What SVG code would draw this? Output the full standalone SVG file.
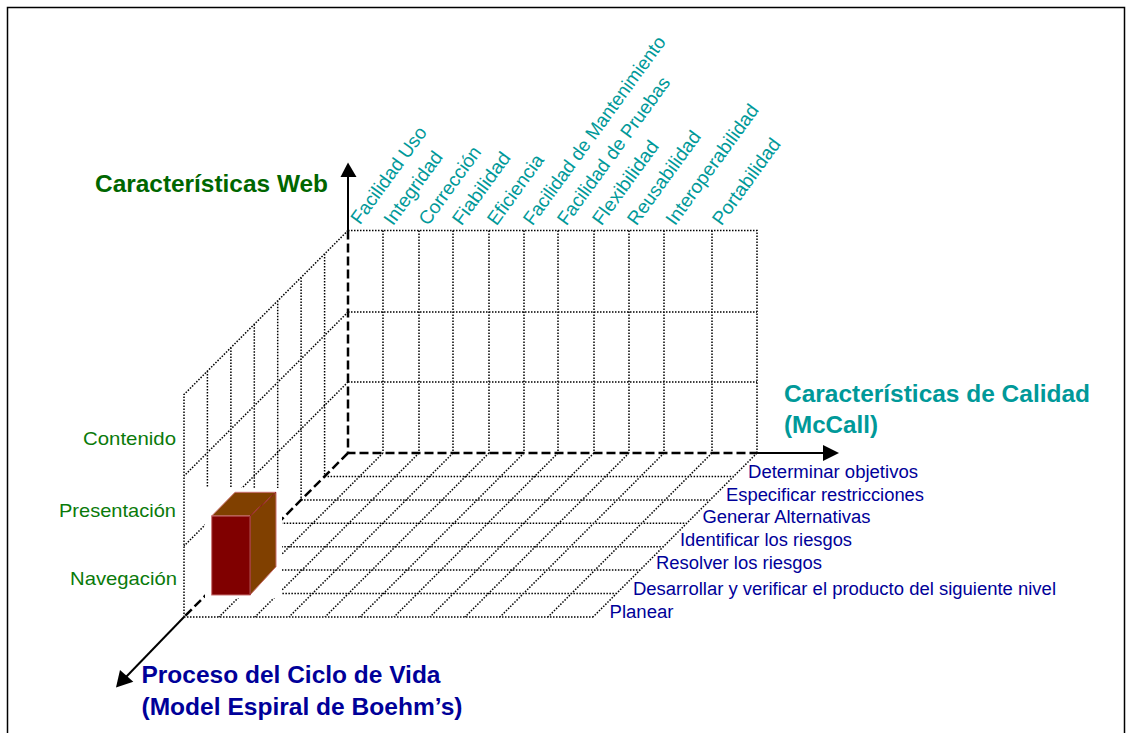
<svg xmlns="http://www.w3.org/2000/svg" width="1127" height="733" viewBox="0 0 1127 733">
<defs>
<style>
.dot{fill:none;stroke:#000;stroke-width:1.5;stroke-dasharray:1.5 1.5}
.dash{fill:none;stroke:#000;stroke-width:2.5;stroke-dasharray:9 4}
.axis{fill:none;stroke:#000;stroke-width:2}
.head{fill:#000}
.t{font-family:"Liberation Sans",Arial,sans-serif}
.top{font-size:19px;fill:#009999}
.flr{font-size:18px;fill:#000099}
.lft{font-size:19px;fill:#0a7a0a}
.ttl{font-size:24px;font-weight:bold}
</style>
</defs>
<rect x="0" y="0" width="1127" height="733" fill="#fff"/>
<g id="frame"><rect x="7.5" y="7.5" width="1117" height="740" fill="none" stroke="#000" stroke-width="1.5"/></g>

<g id="back-wall">
<path class="dot" d="M348 230.5H757V453M348 312H757M348 382H757M383 230.5V453M419 230.5V453M453 230.5V453M489 230.5V453M524 230.5V453M558 230.5V453M594 230.5V453M629 230.5V453M664 230.5V453M712 230.5V453"/>
</g>

<g id="left-wall">
<path class="dot" d="M348 230.5L184 394.5V617M348 312L184 476M348 382L184 546M324.6 253.9V476.4M301.1 277.4V499.9M277.7 300.8V523.3M254.3 324.2V546.7M230.9 347.6V570.1M207.4 371.1V593.6"/>
</g>

<g id="floor">
<path class="dot" d="M324.6 476.4H733.6M301.1 499.9H710.1M277.7 523.3H686.7M254.3 546.7H663.3M230.9 570.1H639.9M207.4 593.6H616.4M184 617H593M383 453L219 617M419 453L255 617M453 453L289 617M489 453L325 617M524 453L360 617M558 453L394 617M594 453L430 617M629 453L465 617M664 453L500 617M712 453L548 617M757 453L593 617"/>
</g>

<g id="axes-dashed">
<path class="dash" d="M348 230.5V453H757M348 453L184 617"/>
</g>

<g id="cube">
<rect x="205" y="488" width="77" height="110" fill="#fff"/>
<polygon points="211.7,516 235,492.3 276,492.3 250,516" fill="#804000" stroke="#c87070" stroke-width="1"/>
<polygon points="250,516 276,492.3 276,566.7 250,595" fill="#804000" stroke="#c87070" stroke-width="1"/>
<rect x="211.7" y="516" width="38.3" height="79" fill="#800000" stroke="#c87070" stroke-width="1"/>
<path d="M250 516L276 492.3M250 516V595" stroke="#8b1a1a" stroke-width="1" fill="none"/>
</g>

<g id="connectors">
<path class="axis" d="M348 230.5V176"/>
<polygon class="head" points="348,162.5 340.5,177 356.5,177"/>
<path class="axis" d="M757 453H825"/>
<polygon class="head" points="839,453 823,445 823,461"/>
<path class="axis" d="M184 617L126 677"/>
<polygon class="head" points="116,687.5 120,670 133.3,681.7"/>
</g>

<g id="node-web" class="t ttl"><text x="95" y="192" fill="#006600" textLength="233" lengthAdjust="spacingAndGlyphs">Características Web</text></g>
<g id="node-calidad" class="t ttl" fill="#009999">
<text x="784" y="401.7" textLength="306" lengthAdjust="spacingAndGlyphs">Características de Calidad</text>
<text x="784" y="433.3" textLength="94" lengthAdjust="spacingAndGlyphs">(McCall)</text>
</g>
<g id="node-proceso" class="t ttl" fill="#000099">
<text x="141.5" y="682.7" textLength="299" lengthAdjust="spacingAndGlyphs">Proceso del Ciclo de Vida</text>
<text x="141.5" y="715" textLength="321" lengthAdjust="spacingAndGlyphs">(Model Espiral de Boehm’s)</text>
</g>

<g id="web-labels" class="t lft" text-anchor="end">
<text x="176" y="444.5" textLength="93" lengthAdjust="spacingAndGlyphs">Contenido</text>
<text x="176" y="516.5" textLength="117" lengthAdjust="spacingAndGlyphs">Presentación</text>
<text x="177" y="585" textLength="107" lengthAdjust="spacingAndGlyphs">Navegación</text>
</g>

<g id="quality-labels" class="t top">
<text transform="translate(360,225.5) rotate(-54)" textLength="115" lengthAdjust="spacingAndGlyphs">Facilidad Uso</text>
<text transform="translate(393,226.5) rotate(-54)" textLength="86" lengthAdjust="spacingAndGlyphs">Integridad</text>
<text transform="translate(428,226.5) rotate(-54)" textLength="92" lengthAdjust="spacingAndGlyphs">Corrección</text>
<text transform="translate(461.5,226.5) rotate(-54)" textLength="85" lengthAdjust="spacingAndGlyphs">Fiabilidad</text>
<text transform="translate(496.5,226.5) rotate(-54)" textLength="82" lengthAdjust="spacingAndGlyphs">Eficiencia</text>
<text transform="translate(532.5,226.5) rotate(-54)" textLength="228" lengthAdjust="spacingAndGlyphs">Facilidad de Mantenimiento</text>
<text transform="translate(566.5,226.5) rotate(-54)" textLength="178" lengthAdjust="spacingAndGlyphs">Facilidad de Pruebas</text>
<text transform="translate(601.5,226.5) rotate(-54)" textLength="99" lengthAdjust="spacingAndGlyphs">Flexibilidad</text>
<text transform="translate(636.5,226.5) rotate(-54)" textLength="111" lengthAdjust="spacingAndGlyphs">Reusabilidad</text>
<text transform="translate(675,226.5) rotate(-54)" textLength="144" lengthAdjust="spacingAndGlyphs">Interoperabilidad</text>
<text transform="translate(721.5,226.5) rotate(-54)" textLength="102" lengthAdjust="spacingAndGlyphs">Portabilidad</text>
</g>

<g id="process-labels" class="t flr">
<text x="748" y="478" textLength="170" lengthAdjust="spacingAndGlyphs">Determinar objetivos</text>
<text x="726" y="501" textLength="198" lengthAdjust="spacingAndGlyphs">Especificar restricciones</text>
<text x="702.5" y="523" textLength="168" lengthAdjust="spacingAndGlyphs">Generar Alternativas</text>
<text x="680" y="546" textLength="172" lengthAdjust="spacingAndGlyphs">Identificar los riesgos</text>
<text x="656" y="569" textLength="166" lengthAdjust="spacingAndGlyphs">Resolver los riesgos</text>
<text x="633" y="595" textLength="423" lengthAdjust="spacingAndGlyphs">Desarrollar y verificar el producto del siguiente nivel</text>
<text x="609.5" y="618.3" textLength="64" lengthAdjust="spacingAndGlyphs">Planear</text>
</g>
</svg>
